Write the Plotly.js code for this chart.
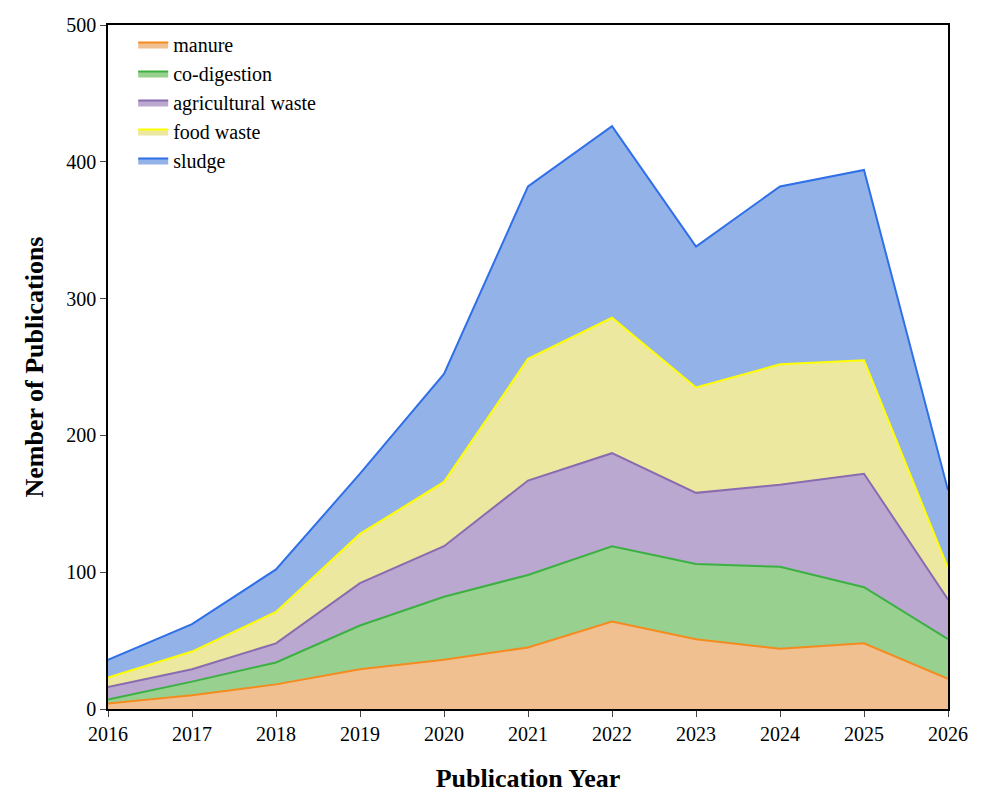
<!DOCTYPE html>
<html><head><script src="https://cdn.plot.ly/plotly-3.0.1.min.js"></script></head>
<body style="margin:0"><div id="c" style="width:986px;height:808px"></div>
<script>
const years=[2016,2017,2018,2019,2020,2021,2022,2023,2024,2025,2026];
const manure=[4,10,18,29,36,45,64,51,44,48,22];
const codigestion=[3,10,16,32,46,53,55,55,60,41,29];
const agricultural=[9,9,14,31,37,69,68,52,60,83,29];
const foodwaste=[7,13,23,36,47,89,99,77,88,83,23];
const sludge=[13,20,31,44,79,126,140,103,130,139,57];
const series=[
 ['manure',manure,'#f0c090','#f58a1f'],
 ['co-digestion',codigestion,'#98d090','#3cb043'],
 ['agricultural waste',agricultural,'#bba8d0','#8a6bb0'],
 ['food waste',foodwaste,'#ece8a0','#ffff00'],
 ['sludge',sludge,'#92b2e8','#2f6fe8']];
const data=series.map(s=>({x:years,y:s[1],name:s[0],type:'scatter',mode:'lines',stackgroup:'a',fillcolor:s[2],line:{color:s[3],width:2}}));
const f={family:'Liberation Serif',size:20,color:'#000'};
Plotly.newPlot('c',data,{
 width:986,height:808,margin:{l:108,r:38,t:25,b:99},
 paper_bgcolor:'#fff',plot_bgcolor:'#fff',font:f,
 xaxis:{range:[2016,2026],dtick:1,showline:true,mirror:true,linecolor:'#000',linewidth:1.5,ticks:'outside',ticklen:6,showgrid:false,zeroline:false,
  title:{text:'<b>Publication Year</b>',font:{family:'Liberation Serif',size:26},standoff:25}},
 yaxis:{range:[0,500],dtick:100,showline:true,mirror:true,linecolor:'#000',linewidth:1.5,ticks:'outside',ticklen:6,showgrid:false,zeroline:false,
  title:{text:'<b>Nember of Publications</b>',font:{family:'Liberation Serif',size:26},standoff:15}},
 legend:{x:0.03,y:1,xanchor:'left',yanchor:'top',traceorder:'normal',bgcolor:'rgba(0,0,0,0)',font:{family:'Liberation Serif',size:20}},
 showlegend:true
},{displayModeBar:false});
</script></body></html>
